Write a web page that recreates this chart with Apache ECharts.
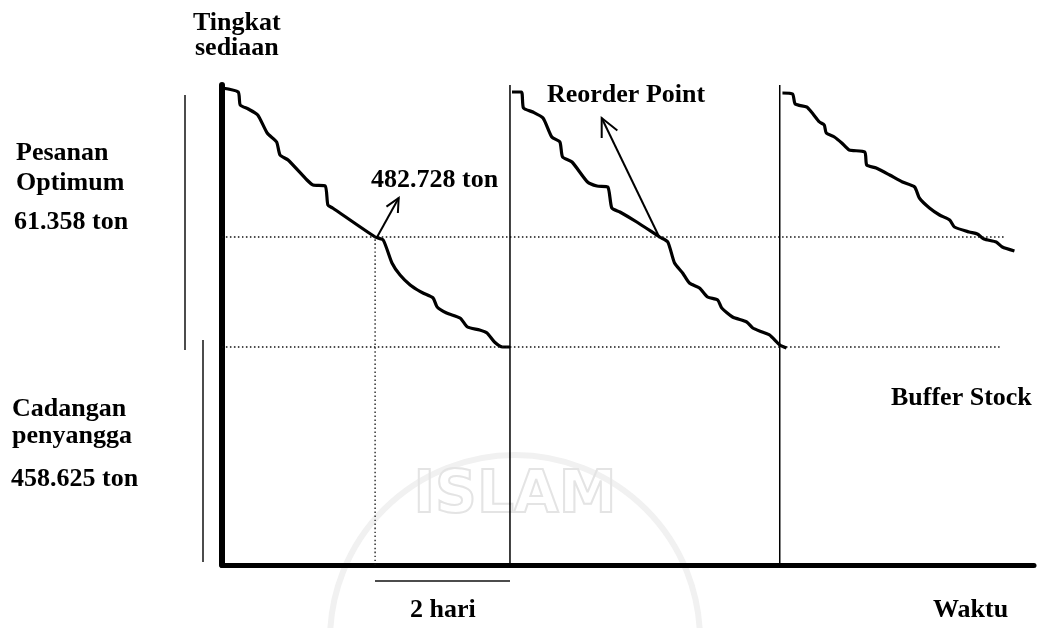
<!DOCTYPE html>
<html>
<head>
<meta charset="utf-8">
<title>Tingkat sediaan</title>
<script src="https://cdn.jsdelivr.net/npm/echarts@6/dist/echarts.min.js"></script>
<style>
  html, body { margin: 0; padding: 0; background: #fff; }
  #chart { width: 1040px; height: 628px; }
</style>
</head>
<body>
<div id="chart"></div>
<script>
// waktu (hari) dan tingkat sediaan (satuan gambar)
var cycle1 = [[0, 477], [0.24, 473], [0.27, 460], [0.39, 456], [0.53, 450], [0.67, 432], [0.81, 423],
  [0.86, 410], [0.98, 405], [1.26, 385], [1.35, 380], [1.53, 379], [1.57, 360], [1.64, 357],
  [2.27, 328], [2.39, 325], [2.52, 302], [2.64, 290], [2.79, 280], [2.90, 275], [2.98, 272],
  [3.13, 267], [3.19, 258], [3.33, 252], [3.53, 247], [3.64, 238], [3.82, 235], [3.93, 232],
  [4.04, 223], [4.16, 218], [4.27, 218]];
var cycle2 = [[4.30, 473], [4.44, 473], [4.47, 457], [4.61, 453], [4.76, 447], [4.89, 428], [5.01, 423],
  [5.05, 408], [5.19, 403], [5.42, 383], [5.56, 379], [5.72, 378], [5.78, 357], [5.90, 353],
  [6.15, 343], [6.49, 328], [6.61, 323], [6.71, 302], [6.83, 292], [6.93, 282], [7.08, 277],
  [7.20, 268], [7.35, 265], [7.41, 257], [7.57, 248], [7.78, 243], [7.87, 237], [8.01, 233],
  [8.12, 230], [8.27, 220], [8.37, 217]];
var cycle3 = [[8.31, 472], [8.46, 471], [8.50, 461], [8.67, 458], [8.74, 453], [8.86, 443], [8.93, 440],
  [8.96, 432], [9.08, 428], [9.19, 422], [9.30, 415], [9.53, 413], [9.56, 400], [9.70, 397],
  [9.90, 390], [10.09, 383], [10.27, 378], [10.34, 367], [10.49, 357], [10.64, 350], [10.79, 345],
  [10.86, 338], [11.08, 333], [11.20, 331], [11.30, 326], [11.48, 323], [11.57, 318], [11.75, 314]];

var orderTimes = [4.27, 8.27];          // saat pesanan datang
var topLevel = 480;
var reorderLevel = 328;
var bufferLevel = 218;
var reorderTime = 2.27;
var reorderEnd = 11.6;
var bufferEnd = 11.53;
// panah: [x awal, y awal, x ujung, y ujung]
var arrows = [[2.30, 328, 2.62, 367], [6.49, 327, 5.63, 447]];

var chart = echarts.init(document.getElementById('chart'));

var font = 'bold 26px "Liberation Serif", "DejaVu Serif", serif';
function label(text, x, y) {
  return { type: 'text', x: x, y: y, silent: true,
    style: { text: text, font: font, fill: '#000', textVerticalAlign: 'middle' } };
}
function vline(x, y1, y2) {
  return { type: 'line', silent: true, shape: { x1: x, y1: y1, x2: x, y2: y2 },
    style: { stroke: '#111', lineWidth: 1.5 } };
}

var curveStyle = { color: '#000', width: 3.2 };
var dotStyle = { color: '#111', width: 1.3, type: [1.5, 2.5] };

function plain(data, style) {
  return { type: 'line', data: data, showSymbol: false, symbol: 'none', silent: true,
    smooth: 0.2, lineStyle: style, z: 3 };
}

var series = [
  plain(cycle1, curveStyle),
  plain(cycle2, curveStyle),
  plain(cycle3, curveStyle),
  plain([[0, reorderLevel], [reorderEnd, reorderLevel]], dotStyle),
  plain([[0, bufferLevel], [bufferEnd, bufferLevel]], dotStyle),
  plain([[reorderTime, 0], [reorderTime, reorderLevel]], dotStyle)
];
orderTimes.forEach(function (t) {
  series.push(plain([[t, 0], [t, topLevel]], { color: '#000', width: 1.5 }));
});
series.push({
  type: 'custom', silent: true, z: 4,
  data: arrows,
  renderItem: function (params, api) {
    var p1 = api.coord([api.value(0), api.value(1)]);
    var p2 = api.coord([api.value(2), api.value(3)]);
    var ang = Math.atan2(p2[1] - p1[1], p2[0] - p1[0]);
    var len = params.dataIndex === 0 ? 15 : 20;
    var a1 = ang + Math.PI - 0.45, a2 = ang + Math.PI + 0.45;
    var st = { stroke: '#000', lineWidth: 2, fill: null };
    return { type: 'group', children: [
      { type: 'line', shape: { x1: p1[0], y1: p1[1], x2: p2[0], y2: p2[1] }, style: st },
      { type: 'polyline', shape: { points: [
        [p2[0] + len * Math.cos(a1), p2[1] + len * Math.sin(a1)],
        [p2[0], p2[1]],
        [p2[0] + len * Math.cos(a2), p2[1] + len * Math.sin(a2)]] }, style: st }
    ] };
  }
});

chart.setOption({
  animation: false,
  backgroundColor: '#fff',
  grid: { left: 222, right: 6, top: 85, bottom: 63 },
  xAxis: {
    type: 'value', min: 0, max: 12.04,
    axisLine: { show: true, onZero: false, lineStyle: { color: '#000', width: 5 } },
    axisTick: { show: false }, axisLabel: { show: false }, splitLine: { show: false }
  },
  yAxis: {
    type: 'value', min: 0, max: 480,
    axisLine: { show: true, onZero: false, lineStyle: { color: '#000', width: 6 } },
    axisTick: { show: false }, axisLabel: { show: false }, splitLine: { show: false }
  },
  series: series,
  graphic: [
    // tanda air samar
    { type: 'circle', silent: true, z: -10, shape: { cx: 515, cy: 640, r: 185 },
      style: { fill: null, stroke: '#f1f1f1', lineWidth: 6 } },
    { type: 'text', silent: true, z: -10, x: 515, y: 497,
      style: { text: 'ISLAM', font: 'bold 58px "DejaVu Sans", sans-serif', fill: null,
        stroke: '#e4e4e4', lineWidth: 2, textAlign: 'center', textVerticalAlign: 'middle' } },
    vline(185, 95, 350),
    vline(203, 340, 562),
    { type: 'line', silent: true, shape: { x1: 375, y1: 581, x2: 510, y2: 581 },
      style: { stroke: '#111', lineWidth: 1.5 } },
    label('Tingkat', 193, 23),
    label('sediaan', 195, 48),
    label('Pesanan', 16, 153),
    label('Optimum', 16, 183),
    label('61.358 ton', 14, 222),
    label('Cadangan', 12, 409),
    label('penyangga', 12, 436),
    label('458.625 ton', 11, 479),
    label('482.728 ton', 371, 180),
    label('Reorder Point', 547, 95),
    label('Buffer Stock', 891, 398),
    label('2 hari', 410, 610),
    label('Waktu', 933, 610)
  ]
});
</script>
</body>
</html>
